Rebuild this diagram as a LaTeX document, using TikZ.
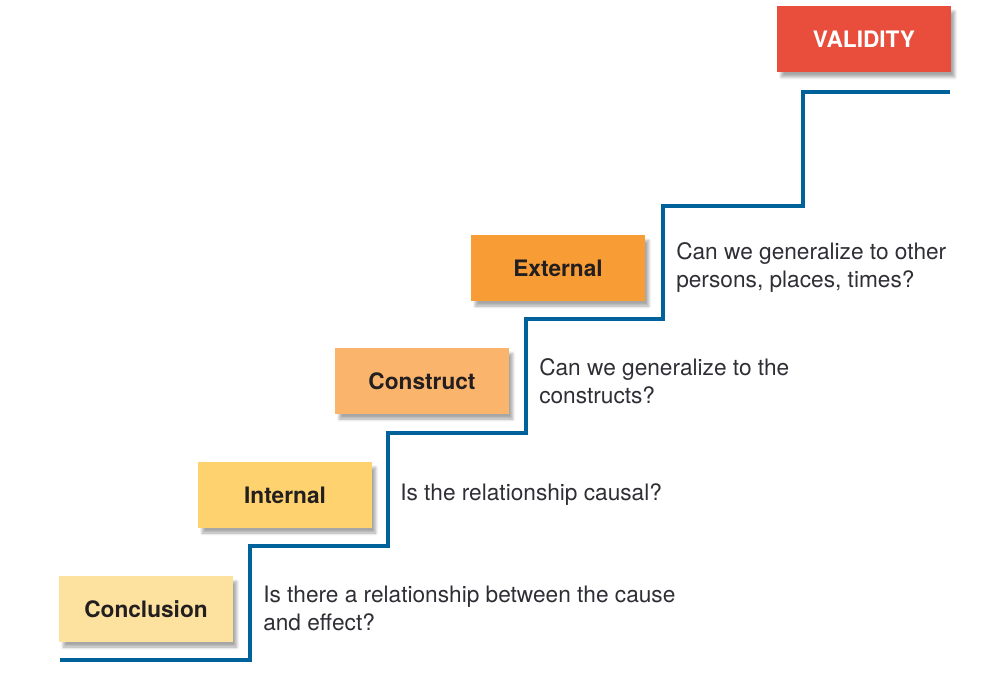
\documentclass[tikz,border=0pt]{standalone}
\usepackage{fontspec}
\setmainfont{TeX Gyre Heros}
\usepackage{tikz}
\usetikzlibrary{positioning,shadows.blur}
\definecolor{stairblue}{HTML}{00629B}
\definecolor{textdark}{HTML}{231F20}
\definecolor{textgray}{HTML}{2E2E35}
\definecolor{conclcol}{HTML}{FDE29F}
\definecolor{intcol}{HTML}{FED36F}
\definecolor{constrcol}{HTML}{FBB46B}
\definecolor{extcol}{HTML}{F89D36}
\definecolor{validcol}{HTML}{E84E3B}
\tikzset{
  stepbox/.style={minimum width=130pt,minimum height=49pt,inner sep=0pt,
    font=\fontsize{17}{21}\selectfont\bfseries,text=textdark,
    blur shadow={shadow xshift=3pt,shadow yshift=-4pt,
      shadow blur steps=8,shadow opacity=35}},
  question/.style={anchor=west,align=left,inner sep=0pt,
    font=\fontsize{17}{21}\selectfont,text=textgray},
  stair/.style={line width=3pt,stairblue}
}

\begin{document}
\begin{tikzpicture}[x=0.75pt,y=-0.75pt]
\useasboundingbox (0,0) rectangle (993,677);

% Draw the staircase
\draw[stair] (60,660) -- (250,660) |- (388,546) |- (526,433)
  |- (663,319) |- (803,206) |- (950,92);

% Draw the boxes on the steps
\node[stepbox,fill=conclcol] (conclusion) at (146,609) {Conclusion};
\node[stepbox,fill=intcol] (internal) at (285,495) {Internal};
\node[stepbox,fill=constrcol] (construct) at (422,381) {Construct};
\node[stepbox,fill=extcol] (external) at (558,268) {External};
\node[stepbox,fill=validcol,text=white] (validity) at (864,39) {VALIDITY};

% Draw the questions
\node[question] (qconclusion) at (263,608)
  {Is there a relationship between the cause\\and effect?};
\node[question] (qinternal) at (400,495) {Is the relationship causal?};
\node[question] (qconstruct) at (539,381)
  {Can we generalize to the\\constructs?};
\node[question] (qexternal) at (676,268)
  {Can we generalize to other\\persons, places, times?};
\end{tikzpicture}
\end{document}
